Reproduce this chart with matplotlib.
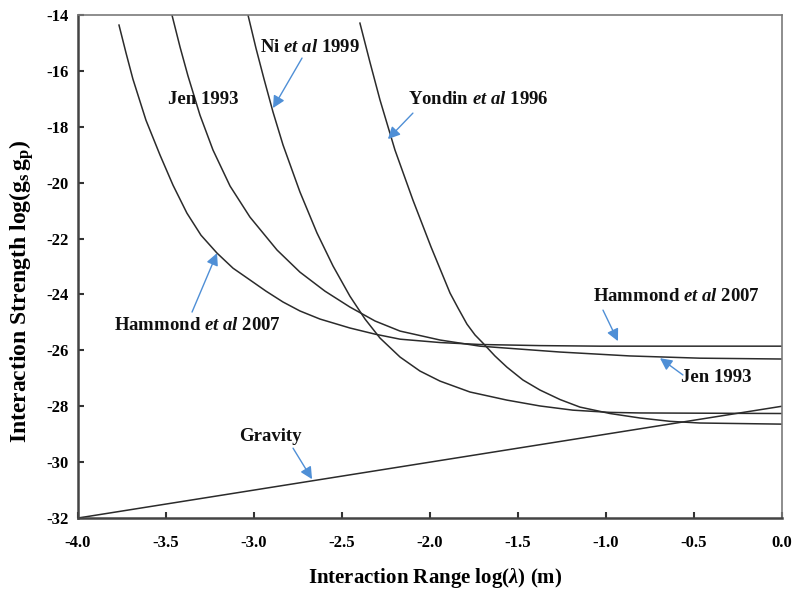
"""
Limits on the monopole-dipole interaction strength versus interaction range.
"""

import numpy as np
from matplotlib import pyplot as plt

plt.rcParams['font.family'] = ['Liberation Serif', 'DejaVu Serif']
plt.rcParams['font.weight'] = 'bold'
plt.rcParams['axes.labelweight'] = 'bold'
plt.rcParams['mathtext.fontset'] = 'custom'
plt.rcParams['mathtext.rm'] = 'Liberation Serif:bold'
plt.rcParams['mathtext.it'] = 'Liberation Serif:italic:bold'
plt.rcParams['mathtext.bf'] = 'Liberation Serif:bold'

# log10(lambda / m) and log10(gs gp) for each experimental limit
hammond_x = [-3.767, -3.727, -3.688, -3.614, -3.534, -3.460, -3.381, -3.301,
             -3.210, -3.119, -3.023, -2.932, -2.835, -2.739, -2.625, -2.455,
             -2.312, -2.170, -1.943, -1.716, -1.375, -1.034, 0.0]
hammond_y = [-14.36, -15.36, -16.29, -17.76, -19.01, -20.09, -21.09, -21.88,
             -22.52, -23.06, -23.48, -23.88, -24.27, -24.59, -24.88, -25.20,
             -25.42, -25.60, -25.72, -25.79, -25.83, -25.85, -25.85]

jen_x = [-3.466, -3.420, -3.375, -3.307, -3.233, -3.136, -3.023, -2.869,
         -2.739, -2.597, -2.455, -2.312, -2.170, -1.943, -1.716, -1.261,
         -0.864, -0.466, 0.0]
jen_y = [-14.0, -15.15, -16.18, -17.58, -18.83, -20.12, -21.23, -22.41,
         -23.20, -23.88, -24.45, -24.95, -25.31, -25.63, -25.85, -26.06,
         -26.20, -26.28, -26.31]

ni_x = [-3.034, -2.989, -2.943, -2.892, -2.835, -2.739, -2.642, -2.551,
        -2.455, -2.369, -2.284, -2.170, -2.057, -1.943, -1.773, -1.563,
        -1.375, -1.188, -0.977, -0.807, 0.0]
ni_y = [-14.0, -15.18, -16.29, -17.47, -18.65, -20.33, -21.80, -22.98,
        -24.06, -24.88, -25.56, -26.24, -26.74, -27.10, -27.49, -27.78,
        -27.99, -28.14, -28.22, -28.24, -28.26]

yondin_x = [-2.398, -2.341, -2.284, -2.199, -2.097, -1.994, -1.886, -1.841,
            -1.790, -1.744, -1.699, -1.631, -1.563, -1.472, -1.375, -1.261,
            -1.148, -0.977, -0.807, -0.636, -0.466, 0.0]
yondin_y = [-14.29, -15.69, -17.04, -18.83, -20.62, -22.30, -23.95, -24.48,
            -25.06, -25.45, -25.74, -26.20, -26.60, -27.06, -27.42, -27.76,
            -28.03, -28.26, -28.42, -28.54, -28.60, -28.64]

gravity_x = [-4.0, 0.0]
gravity_y = [-32.0, -28.0]

x_ticks = [-4.0, -3.5, -3.0, -2.5, -2.0, -1.5, -1.0, -0.5, 0.0]
y_ticks = [-14, -16, -18, -20, -22, -24, -26, -28, -30, -32]

# (label, text position, arrow tail, arrow head); head None -> no arrow
labels = [
    (r'Ni $et\ al$ 1999', (-2.682, -15.15), (-2.727, -15.54), (-2.892, -17.33)),
    ('Jen 1993', (-3.29, -17.04), None, None),
    (r'Yondin $et\ al$ 1996', (-1.727, -17.04), (-2.097, -17.51), (-2.239, -18.44)),
    (r'Hammond $et\ al$ 2007', (-3.324, -25.10), (-3.352, -24.63), (-3.21, -22.52)),
    ('Gravity', (-2.909, -29.10), (-2.778, -29.50), (-2.67, -30.61)),
    (r'Hammond $et\ al$ 2007', (-0.597, -24.09), (-1.017, -24.56), (-0.932, -25.67)),
    ('Jen 1993', (-0.375, -26.96), (-0.563, -26.88), (-0.693, -26.28)),
]

LINE = '#2b2b2b'
ARROW = '#4f8fd6'


def main():
    fig = plt.figure(figsize=(8.04, 5.89), dpi=100)
    ax = fig.add_axes([0.097, 0.1205, 0.8756, 0.854])

    for xs, ys in [(hammond_x, hammond_y), (jen_x, jen_y), (ni_x, ni_y),
                   (yondin_x, yondin_y), (gravity_x, gravity_y)]:
        ax.plot(xs, ys, color=LINE, lw=1.1, solid_joinstyle='round')

    for text, pos, tail, head in labels:
        ax.text(pos[0], pos[1], text, ha='center', va='center', fontsize=13.5,
                color='#111111')
        if head is not None:
            ax.annotate('', xy=head, xytext=tail,
                        arrowprops=dict(arrowstyle='-|>', color=ARROW, lw=1.0,
                                        mutation_scale=18, shrinkA=0, shrinkB=0))

    ax.set_xlim(-4.0, 0.0)
    ax.set_ylim(-32, -14)
    ax.set_xticks(x_ticks)
    ax.set_xticklabels(['%.1f' % v for v in x_ticks])
    ax.set_yticks(y_ticks)
    ax.set_yticklabels(['%d' % v for v in y_ticks])
    ax.tick_params(direction='in', length=4, width=1.5, color='#333333',
                   labelsize=12, top=False, right=False)
    ax.tick_params(axis='x', pad=12)
    ax.tick_params(axis='y', pad=7)

    for side in ['left', 'bottom']:
        ax.spines[side].set_linewidth(1.8)
        ax.spines[side].set_color('#444444')
    for side in ['top', 'right']:
        ax.spines[side].set_linewidth(1.2)
        ax.spines[side].set_color('#7a7a7a')

    ax.set_xlabel(r'Interaction Range log($\lambda$) (m)', fontsize=15)
    ax.set_ylabel(r'Interaction Strength log($\mathrm{g_s\,g_p}$)', fontsize=17)
    ax.xaxis.set_label_coords(0.508, -0.095)
    ax.yaxis.set_label_coords(-0.06, 0.45)

    fig.savefig('out.png', dpi=100)


if __name__ == '__main__':
    main()
